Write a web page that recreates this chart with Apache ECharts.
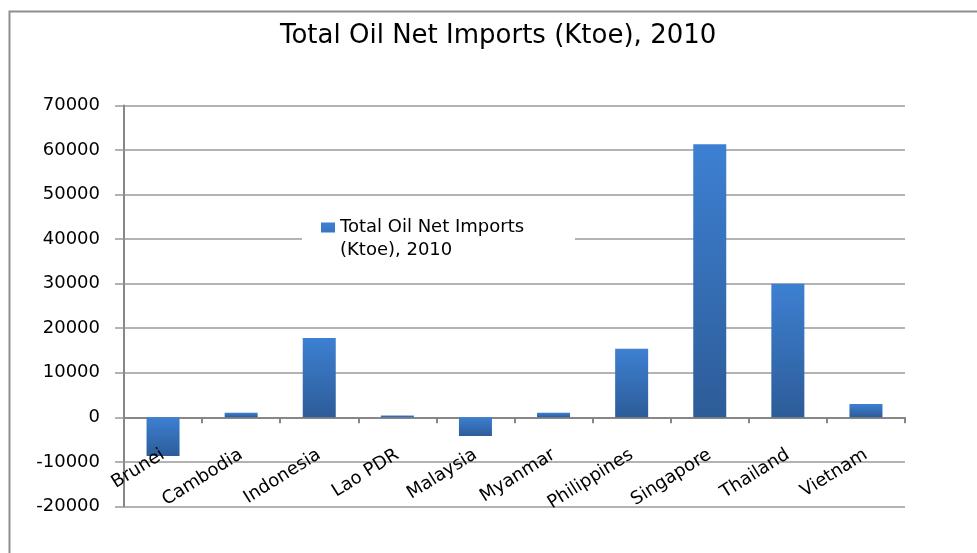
<!DOCTYPE html>
<html>
<head>
<meta charset="utf-8">
<title>Total Oil Net Imports (Ktoe), 2010</title>
<script src="https://cdn.jsdelivr.net/npm/echarts@6/dist/echarts.min.js"></script>
<style>
  html, body { margin: 0; padding: 0; background: #fff; }
  #chart { width: 977px; height: 553px; }
</style>
</head>
<body>
<div id="chart"></div>
<script>
// Net oil imports by country, 2010 (thousand tonnes of oil equivalent)
const chartTitle = 'Total Oil Net Imports (Ktoe), 2010';
const seriesName = 'Total Oil Net Imports\n(Ktoe), 2010';
const countries = ['Brunei', 'Cambodia', 'Indonesia', 'Lao PDR', 'Malaysia',
                   'Myanmar', 'Philippines', 'Singapore', 'Thailand', 'Vietnam'];
const netImports = [-8700, 1000, 17800, 400, -4200, 1000, 15400, 61300, 30000, 3000];
const yMin = -20000;
const yMax = 70000;
const yStep = 10000;

const FONT = 'DejaVu Sans';
const AXIS_GREY = '#878787';
const GRID_GREY = '#9a9a9a';

const GRID_TOP = 105.5;
const GRID_BOTTOM = 46.6;
const GRID_HEIGHT = 553 - GRID_TOP - GRID_BOTTOM;
// distance from the bottom of the plot up to the zero line
const zeroLift = GRID_HEIGHT * (0 - yMin) / (yMax - yMin);

const chart = echarts.init(document.getElementById('chart'), null, { renderer: 'canvas' });

chart.setOption({
  backgroundColor: '#ffffff',
  animation: false,
  title: {
    text: chartTitle,
    left: 275,
    top: 18,
    textStyle: { fontFamily: FONT, fontSize: 26, fontWeight: 'normal', color: '#000' }
  },
  graphic: [
    {
      // outer chart frame
      type: 'rect',
      left: 7, top: 9,
      shape: { width: 1000, height: 600 },
      style: { fill: 'none', stroke: '#8e8e8e', lineWidth: 2 },
      silent: true
    },
    {
      // white panel behind the legend
      type: 'rect',
      left: 302, top: 212,
      z: 1,
      shape: { width: 273, height: 48 },
      style: { fill: '#ffffff' },
      silent: true
    }
  ],
  legend: {
    left: 321,
    top: 216,
    z: 5,
    padding: 0,
    itemWidth: 14,
    itemHeight: 33,
    itemGap: 6,
    // square key sitting level with the first line of the two-line name
    icon: 'path://M0,0h14v10h-14z M13.99,32.99h0.01v0.01h-0.01z',
    data: [seriesName],
    textStyle: { fontFamily: FONT, fontSize: 18, color: '#000', lineHeight: 23 }
  },
  grid: {
    left: 124, right: 72, top: GRID_TOP, bottom: GRID_BOTTOM,
    containLabel: false, outerBoundsMode: 'none'
  },
  xAxis: [
    {
      // axis line and ticks along zero
      type: 'category',
      data: countries,
      boundaryGap: true,
      axisLine: { onZero: true, lineStyle: { color: AXIS_GREY, width: 2 } },
      axisTick: { show: true, length: 6, alignWithLabel: false, lineStyle: { color: AXIS_GREY, width: 2 } },
      axisLabel: { show: false },
      splitLine: { show: false }
    },
    {
      // country names hanging under the zero line, drawn above the bars
      type: 'category',
      data: countries,
      position: 'bottom',
      offset: -zeroLift,
      z: 10,
      boundaryGap: true,
      axisLine: { show: false, onZero: false },
      axisTick: { show: false },
      axisLabel: {
        interval: 0, rotate: 32, margin: 36,
        fontFamily: FONT, fontSize: 18, color: '#000'
      },
      splitLine: { show: false }
    }
  ],
  yAxis: {
    type: 'value',
    min: yMin,
    max: yMax,
    interval: yStep,
    axisLine: { show: true, lineStyle: { color: AXIS_GREY, width: 2 } },
    axisTick: { show: true, length: 9, lineStyle: { color: GRID_GREY, width: 1.5 } },
    axisLabel: {
      margin: 24, fontFamily: FONT, fontSize: 18, color: '#000',
      formatter: v => String(v)
    },
    splitLine: { show: true, lineStyle: { color: GRID_GREY, width: 1.5 } }
  },
  series: [{
    name: seriesName,
    type: 'bar',
    xAxisIndex: 0,
    data: netImports,
    barWidth: 33,
    z: 3,
    itemStyle: {
      color: new echarts.graphic.LinearGradient(0, 0, 0, 1, [
        { offset: 0, color: '#3d80d2' },
        { offset: 1, color: '#2d5c98' }
      ])
    }
  }]
});
</script>
</body>
</html>
